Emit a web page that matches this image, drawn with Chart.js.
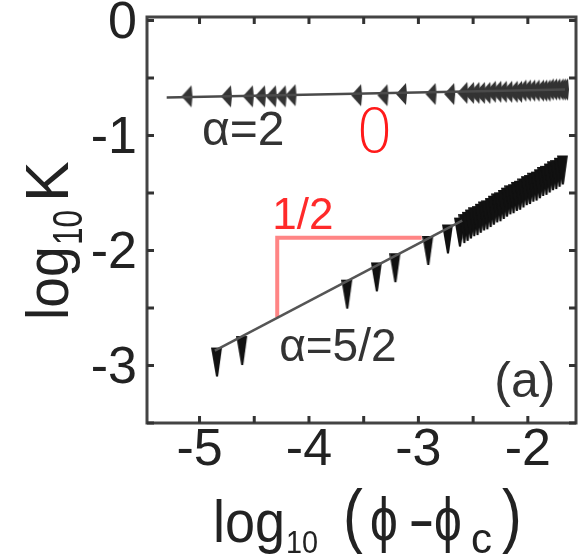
<!DOCTYPE html>
<html>
<head>
<meta charset="utf-8">
<script src="https://cdn.jsdelivr.net/npm/chart.js@4/dist/chart.umd.min.js"></script>
<style>
  html, body { margin: 0; padding: 0; background: #fff; }
  #wrap { width: 581px; height: 557px; }
</style>
</head>
<body>
<div id="wrap"><canvas id="chart" width="581" height="557"></canvas></div>
<script>
// ---------- Data ----------
// alpha = 2 series (flat, slope 0)
const alpha2X = [-5.11, -4.75, -4.55, -4.44, -4.34, -4.25, -4.16, -3.56, -3.32, -3.15, -2.88, -2.71, -2.59,
  -2.53, -2.48, -2.43, -2.38, -2.33, -2.28, -2.23, -2.18, -2.13, -2.09, -2.05, -2.01, -1.97, -1.93, -1.89,
  -1.86, -1.83, -1.80, -1.77, -1.74, -1.71, -1.69, -1.67];
const alpha2Y = [-0.66, -0.66, -0.66, -0.66, -0.66, -0.66, -0.65, -0.65, -0.65, -0.64, -0.64, -0.64, -0.63,
  -0.63, -0.63, -0.63, -0.63, -0.62, -0.62, -0.62, -0.62, -0.62, -0.62, -0.61, -0.61, -0.61, -0.61, -0.61,
  -0.61, -0.61, -0.60, -0.60, -0.60, -0.60, -0.60, -0.60];
const fit2X = [-5.30, -1.66];
const fit2Y = [-0.67, -0.60];

// alpha = 5/2 series (slope 1/2)
const alpha52X = [-4.84, -4.61, -3.65, -3.38, -3.21, -2.91, -2.73,
  -2.62, -2.58, -2.55, -2.52, -2.49, -2.46, -2.43, -2.40, -2.37, -2.34, -2.31, -2.28, -2.25, -2.22, -2.19,
  -2.16, -2.13, -2.10, -2.07, -2.04, -2.01, -1.98, -1.95, -1.92, -1.89, -1.86, -1.83, -1.80, -1.77, -1.74,
  -1.71, -1.68];
const alpha52Y = [-2.87, -2.77, -2.28, -2.13, -2.05, -1.90, -1.80,
  -1.74, -1.71, -1.69, -1.67, -1.65, -1.64, -1.62, -1.60, -1.59, -1.57, -1.55, -1.53, -1.52, -1.50, -1.48,
  -1.46, -1.45, -1.43, -1.42, -1.40, -1.38, -1.37, -1.35, -1.34, -1.32, -1.30, -1.29, -1.27, -1.25, -1.24,
  -1.22, -1.20];
const fit52X = [-4.86, -2.60];
const fit52Y = [-2.87, -1.74];

// red slope triangle
const slopeX = [-4.29, -4.29, -2.97];
const slopeY = [-2.58, -1.89, -1.89];

// axis ranges
const X_MIN = -5.48, X_MAX = -1.56;
const Y_MIN = -3.5, Y_MAX = 0.03;

// text annotations, placed in data units
const noteText  = ["α=2", "0", "1/2", "α=5/2", "(a)"];
const noteX     = [-4.60, -3.40, -4.055, -3.736, -2.027];
const noteY     = [-1.087, -1.148, -1.81, -2.957, -3.278];
const noteColor = ["#333", "#ff1a1a", "#ff2a2a", "#333", "#333"];
const noteSize  = [48, 60, 44, 46, 50];

const FONT = "'Liberation Sans', Arial, Helvetica, sans-serif";
const pts = (xs, ys) => xs.map((x, i) => ({ x, y: ys[i] }));

// ---------- Marker shapes ----------
function leftTriangle(color) {
  const c = document.createElement("canvas");
  c.width = 14; c.height = 26;
  const g = c.getContext("2d");
  g.fillStyle = color;
  g.beginPath();
  g.moveTo(1, 13);
  g.lineTo(11, 2);
  g.lineTo(12, 13);
  g.lineTo(11, 24);
  g.closePath();
  g.fill();
  return c;
}
function downWedge(color) {
  const c = document.createElement("canvas");
  c.width = 12; c.height = 60;
  const g = c.getContext("2d");
  g.fillStyle = color;
  g.beginPath();
  g.moveTo(0, 27);
  g.lineTo(11, 27);
  g.lineTo(7, 56);
  g.lineTo(5, 56);
  g.closePath();
  g.fill();
  return c;
}

// ---------- Frame, inward ticks, titles, notes ----------
const decor = {
  id: "decor",
  afterDatasetsDraw(chart) {
    const { ctx, chartArea: a, scales } = chart;
    const xs = scales.x, ys = scales.y;
    ctx.save();
    // frame
    ctx.strokeStyle = "#444";
    ctx.lineWidth = 3;
    ctx.strokeRect(a.left, a.top, a.right - a.left, a.bottom - a.top);
    // ticks pointing inside
    ctx.strokeStyle = "#333";
    const tl = 7;
    xs.ticks.forEach((t) => {
      const p = xs.getPixelForValue(t.value);
      ctx.beginPath();
      ctx.moveTo(p, a.bottom); ctx.lineTo(p, a.bottom - tl);
      ctx.moveTo(p, a.top); ctx.lineTo(p, a.top + tl);
      ctx.stroke();
    });
    ys.ticks.forEach((t) => {
      const p = ys.getPixelForValue(t.value);
      ctx.beginPath();
      ctx.moveTo(a.left, p); ctx.lineTo(a.left + tl, p);
      ctx.moveTo(a.right, p); ctx.lineTo(a.right - tl, p);
      ctx.stroke();
    });

    // notes
    ctx.textAlign = "center";
    ctx.textBaseline = "alphabetic";
    noteText.forEach((txt, i) => {
      ctx.fillStyle = noteColor[i];
      ctx.font = (i === 1 ? "200 " : "") + noteSize[i] + "px " + (i === 1 ? "'DejaVu Sans', " : "") + FONT;
      ctx.fillText(txt, xs.getPixelForValue(noteX[i]), ys.getPixelForValue(noteY[i]));
    });

    // x title: log10 (ϕ-ϕc)
    ctx.fillStyle = "#222";
    ctx.textAlign = "left";
    const piece = (txt, x, y, size, sx) => {
      ctx.save();
      ctx.translate(x, y);
      ctx.scale(sx, 1);
      ctx.font = size + "px " + FONT;
      ctx.fillText(txt, 0, 0);
      ctx.restore();
    };
    piece("log", 213, 542, 60, 0.9);
    piece("10", 286, 553, 32, 0.9);
    piece("(", 343, 539, 70, 0.85);
    piece("ϕ", 370, 540, 62, 0.8);
    piece("-", 408, 540, 62, 1.3);
    piece("ϕ", 434, 540, 62, 0.8);
    piece("c", 471, 553, 42, 1);
    piece(")", 502, 539, 70, 0.85);

    // y title: log10 K (rotated)
    ctx.save();
    ctx.translate(68, 317);
    ctx.rotate(-Math.PI / 2);
    piece("log", -3, 0, 60, 0.92);
    piece("10", 72, 14, 42, 0.75);
    piece("K", 115, 0, 61, 1);
    ctx.restore();

    ctx.restore();
  },
};

// ---------- Chart ----------
const tickFont = { family: FONT, size: 52 };
const intLabel = (v) => (Number.isInteger(v) ? String(v) : "");
const noEdgePad = (s) => {
  s.paddingTop = 0; s.paddingBottom = 0; s.paddingLeft = 0; s.paddingRight = 0;
};

new Chart(document.getElementById("chart"), {
  type: "scatter",
  data: {
    datasets: [
      {
        label: "fit α=2",
        data: pts(fit2X, fit2Y),
        showLine: true,
        borderColor: "#4a4a4a",
        borderWidth: 2.5,
        pointRadius: 0,
      },
      {
        label: "fit α=5/2",
        data: pts(fit52X, fit52Y),
        showLine: true,
        borderColor: "#555",
        borderWidth: 2.5,
        pointRadius: 0,
      },
      {
        label: "slope 1/2",
        data: pts(slopeX, slopeY),
        showLine: true,
        borderColor: "#ff8585",
        borderWidth: 4,
        pointRadius: 0,
      },
      {
        label: "α=2",
        data: pts(alpha2X, alpha2Y),
        pointStyle: leftTriangle("#333"),
        showLine: false,
      },
      {
        label: "α=5/2",
        data: pts(alpha52X, alpha52Y),
        pointStyle: downWedge("#111"),
        showLine: false,
      },
    ],
  },
  options: {
    responsive: false,
    animation: false,
    events: [],
    layout: { padding: { top: 17, right: 3, left: 0, bottom: 0 } },
    plugins: { legend: { display: false }, tooltip: { enabled: false } },
    scales: {
      x: {
        type: "linear",
        min: X_MIN,
        max: X_MAX,
        grid: { display: false, drawTicks: false },
        border: { display: false },
        ticks: {
          stepSize: 0.5,
          includeBounds: false,
          autoSkip: false,
          maxRotation: 0,
          minRotation: 0,
          padding: -4,
          color: "#222",
          font: tickFont,
          callback: intLabel,
        },
        afterFit: (s) => { s.height = 134; noEdgePad(s); },
      },
      y: {
        type: "linear",
        min: Y_MIN,
        max: Y_MAX,
        grid: { display: false, drawTicks: false },
        border: { display: false },
        ticks: {
          stepSize: 0.5,
          includeBounds: false,
          autoSkip: false,
          padding: 10,
          labelOffset: 3,
          color: "#222",
          font: tickFont,
          callback: intLabel,
        },
        afterFit: (s) => { s.width = 147; noEdgePad(s); },
      },
    },
  },
  plugins: [decor],
});
</script>
</body>
</html>
